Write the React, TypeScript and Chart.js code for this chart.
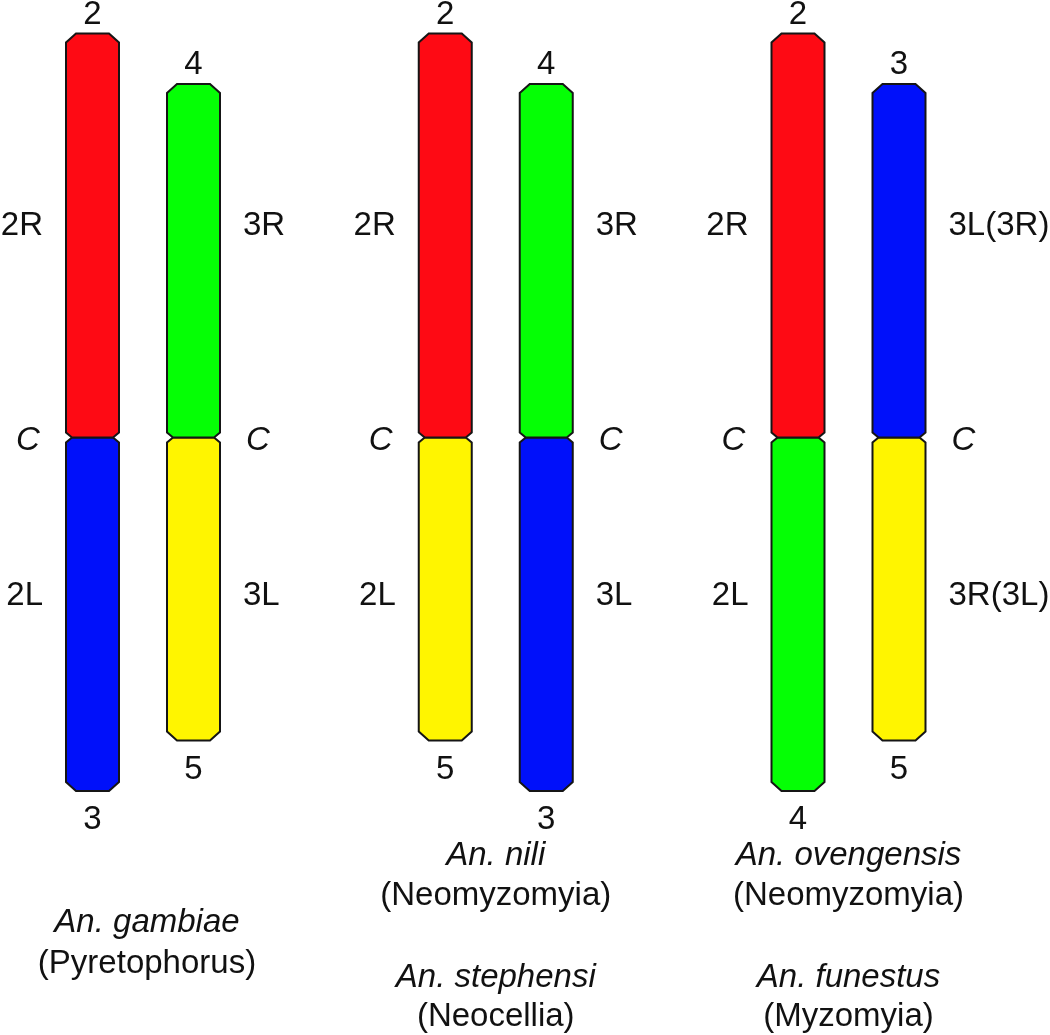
import React, { useEffect, useRef } from 'react';
import { Chart, registerables } from 'chart.js';

Chart.register(...registerables);

// ---- data ----
const groups = [0, 1, 2];
const leftUpperArm = ['2R', '2R', '2R'];
const leftUpperLength = [8, 8, 8];
const leftLowerArm = ['2L', '2L', '2L'];
const leftLowerLength = [7, 6, 7];
const rightUpperArm = ['3R', '3R', '3L(3R)'];
const rightUpperLength = [7, 7, 7];
const rightLowerArm = ['3L', '3L', '3R(3L)'];
const rightLowerLength = [6, 7, 6];
const leftTopEnd = ['2', '2', '2'];
const leftBottomEnd = ['3', '5', '4'];
const rightTopEnd = ['4', '4', '3'];
const rightBottomEnd = ['5', '3', '5'];
const centromereLabel = 'C';
const speciesNames = [['An. gambiae'], ['An. nili', 'An. stephensi'], ['An. ovengensis', 'An. funestus']];
const subgenera = [['(Pyretophorus)'], ['(Neomyzomyia)', '(Neocellia)'], ['(Neomyzomyia)', '(Myzomyia)']];

const RED = '#FE0A14';
const GREEN = '#05FF05';
const BLUE = '#0010FA';
const YELLOW = '#FFF500';
const leftUpperColor = [RED, RED, RED];
const leftLowerColor = [BLUE, YELLOW, GREEN];
const rightUpperColor = [GREEN, GREEN, BLUE];
const rightLowerColor = [YELLOW, BLUE, YELLOW];

const FONT = '"Liberation Sans", Arial, Helvetica, sans-serif';
const FS = 33;

const chromosomePlugin = {
  id: 'chromosomes',
  beforeDatasetDraw(chart: any, args: any) {
    const ctx = chart.ctx;
    const ds = chart.data.datasets[args.index];
    const colors = ds.backgroundColor as string[];
    args.meta.data.forEach((el: any, i: number) => {
      const { x, y, base, width } = el.getProps(['x', 'y', 'base', 'width'], true);
      const l = x - width / 2;
      const r = x + width / 2;
      const dir = y < base ? -1 : 1;
      const oc = 10, ov = 9, ic = 6, iv = 5;
      ctx.save();
      ctx.beginPath();
      ctx.moveTo(l + ic, base);
      ctx.lineTo(r - ic, base);
      ctx.lineTo(r, base + dir * iv);
      ctx.lineTo(r, y - dir * ov);
      ctx.lineTo(r - oc, y);
      ctx.lineTo(l + oc, y);
      ctx.lineTo(l, y - dir * ov);
      ctx.lineTo(l, base + dir * iv);
      ctx.closePath();
      ctx.fillStyle = colors[i];
      ctx.fill();
      ctx.lineWidth = 2;
      ctx.strokeStyle = '#151515';
      ctx.lineJoin = 'miter';
      ctx.stroke();
      ctx.restore();
    });
    return false;
  },
};

const labelPlugin = {
  id: 'chromLabels',
  afterDatasetsDraw(chart: any) {
    const ctx = chart.ctx;
    const yScale = chart.scales.y;
    const upY = yScale.getPixelForValue(4.25) + 12;
    const downY = yScale.getPixelForValue(-3.08) + 12;
    const cenY = yScale.getPixelForValue(0) + 12;
    ctx.save();
    ctx.fillStyle = '#111';
    chart.data.datasets.forEach((ds: any, di: number) => {
      const meta = chart.getDatasetMeta(di);
      meta.data.forEach((el: any, i: number) => {
        const { x, y, width } = el.getProps(['x', 'y', 'width'], true);
        const upper = ds.upper;
        const isLeft = ds.side === 'left';
        ctx.font = `${FS}px ${FONT}`;
        ctx.textAlign = 'center';
        ctx.textBaseline = 'alphabetic';
        if (upper) ctx.fillText(ds.endLabels[i], x, y - 10);
        else ctx.fillText(ds.endLabels[i], x, y + 38);
        const ly = upper ? upY : downY;
        if (isLeft) {
          ctx.textAlign = 'right';
          ctx.fillText(ds.armLabels[i], x - width / 2 - 23, ly);
        } else {
          ctx.textAlign = 'left';
          ctx.fillText(ds.armLabels[i], x + width / 2 + 23, ly);
        }
        if (upper) {
          ctx.font = `italic ${FS}px ${FONT}`;
          ctx.textAlign = 'center';
          const cx = isLeft ? x - width / 2 - 38 : x + width / 2 + 38;
          ctx.fillText(centromereLabel, cx, cenY);
        }
      });
    });
    const xScale = chart.scales.x;
    groups.forEach((g, gi) => {
      const cx = xScale.getPixelForValue(g) + (speciesNames[gi].length === 1 ? 4 : 0);
      const baselines = speciesNames[gi].length === 1 ? [[932, 973]] : [[865, 905], [987, 1026]];
      speciesNames[gi].forEach((name, si) => {
        ctx.textAlign = 'center';
        ctx.font = `italic ${FS}px ${FONT}`;
        ctx.fillText(name, cx, baselines[si][0]);
        ctx.font = `${FS}px ${FONT}`;
        ctx.fillText(subgenera[gi][si], cx, baselines[si][1]);
      });
    });
    ctx.restore();
  },
};

export default function App() {
  const ref = useRef<HTMLCanvasElement | null>(null);
  useEffect(() => {
    if (!ref.current) return;
    const unit = 352.75;
    const firstCenter = 143;
    const mk = (label: string, lengths: number[], sign: number, stack: string, colors: string[], arms: string[], ends: string[], side: string) => ({
      label,
      data: groups.map((g, i) => ({ x: g, y: sign * lengths[i] })),
      stack,
      backgroundColor: colors,
      armLabels: arms,
      endLabels: ends,
      side,
      upper: sign > 0,
    });
    const chart = new Chart(ref.current, {
      type: 'bar',
      data: {
        datasets: [
          mk('left upper', leftUpperLength, 1, 'left', leftUpperColor, leftUpperArm, leftTopEnd, 'left'),
          mk('left lower', leftLowerLength, -1, 'left', leftLowerColor, leftLowerArm, leftBottomEnd, 'left'),
          mk('right upper', rightUpperLength, 1, 'right', rightUpperColor, rightUpperArm, rightTopEnd, 'right'),
          mk('right lower', rightLowerLength, -1, 'right', rightLowerColor, rightLowerArm, rightBottomEnd, 'right'),
        ] as any,
      },
      options: {
        animation: false,
        responsive: false,
        events: [],
        layout: { padding: 0 },
        categoryPercentage: 202 / unit,
        barPercentage: 53 / 101,
        plugins: { legend: { display: false }, tooltip: { enabled: false }, title: { display: false } },
        scales: {
          x: {
            type: 'linear',
            display: false,
            offset: false,
            min: -firstCenter / unit,
            max: (1050 - firstCenter) / unit,
            afterBuildTicks: (s: any) => {
              s.ticks = groups.map((v) => ({ value: v }));
            },
          },
          y: {
            type: 'linear',
            display: false,
            stacked: true,
            min: -(1035 - 437.5) / 50.5,
            max: 437.5 / 50.5,
          },
        },
      } as any,
      plugins: [chromosomePlugin, labelPlugin],
    });
    return () => chart.destroy();
  }, []);
  return (
    <div style={{ position: 'absolute', left: 0, top: 0, width: 1050, height: 1035, background: '#fff' }}>
      <canvas ref={ref} width={1050} height={1035} style={{ width: 1050, height: 1035, display: 'block' }} />
    </div>
  );
}
